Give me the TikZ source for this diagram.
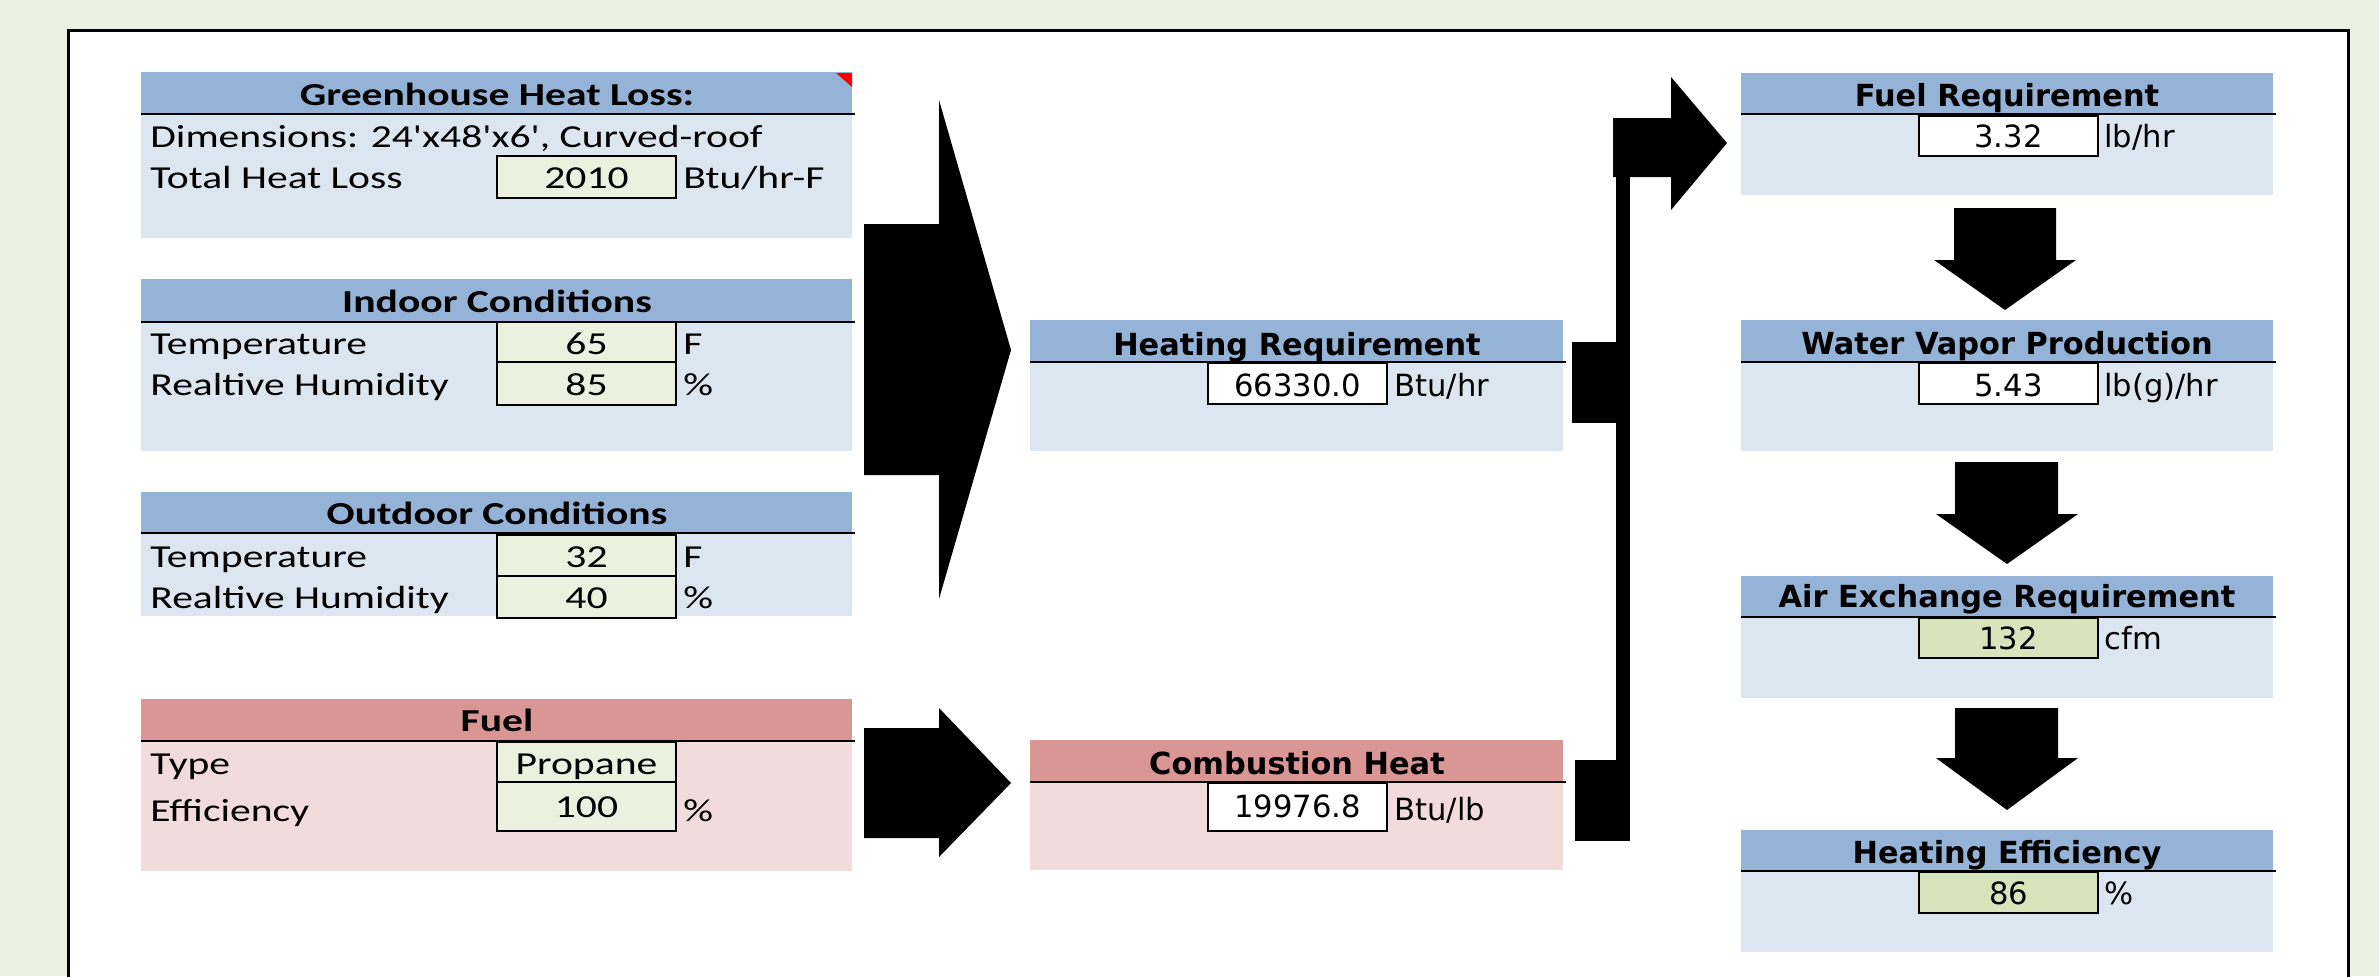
\documentclass[tikz,border=0pt]{standalone}
\usepackage{fontspec}
\newfontfamily\calfont[FakeStretch=1.3]{Carlito}
\newfontfamily\verfont{DejaVu Sans}
\usetikzlibrary{calc}
\definecolor{bgcol}{RGB}{236,240,224}
\definecolor{hdrblue}{RGB}{149,179,215}
\definecolor{bodyblue}{RGB}{220,230,241}
\definecolor{hdrred}{RGB}{218,150,148}
\definecolor{bodyred}{RGB}{242,220,219}
\definecolor{inpgreen}{RGB}{235,241,222}
\definecolor{resgreen}{RGB}{216,228,188}
\newcommand{\panelbox}[7]{% x1 y1 x2 yline y2 hdr body
  \fill[#7] (#1,#4) rectangle (#3,#5);
  \fill[#6] (#1,#2) rectangle (#3,#4);
  \draw[hline] (#1,#4) -- (#3+3,#4);
}
\begin{document}
\begin{tikzpicture}[x=0.5pt,y=-0.5pt,
  lt/.style={font=\calfont\fontsize{16}{19}\selectfont, inner sep=0pt, anchor=base west},
  lc/.style={lt, anchor=base},
  lh/.style={font=\calfont\bfseries\fontsize{16}{19}\selectfont, inner sep=0pt, anchor=base},
  rt/.style={font=\verfont\fontsize{15.3}{18}\selectfont, inner sep=0pt, anchor=base west},
  rc/.style={rt, anchor=base},
  rh/.style={font=\verfont\bfseries\fontsize{15.2}{18}\selectfont, inner sep=0pt, anchor=base},
  hline/.style={line width=1.25pt, line cap=butt},
  vbox/.style={draw=black, line width=1.2pt},
  blockarrow/.style={fill=black}
]
\fill[bgcol] (0,0) rectangle (2379,976);
\useasboundingbox (0,0) rectangle (2379,976);
\draw[line width=1.5pt, fill=white] (68.5,30.5) rectangle (2348.5,1010);

% ---------- Greenhouse Heat Loss
\panelbox{141}{72}{852}{114}{238}{hdrblue}{bodyblue}
\fill[red] (836,73) -- (852,73) -- (852,87) -- cycle;
\node[lh] (ghT) at (497,105) {Greenhouse Heat Loss:};
\node[lt] (ghDim) at (150,147) {Dimensions: 24'x48'x6', Curved-roof};
\node[lt] (ghTot) at (150,188) {Total Heat Loss};
\draw[vbox, fill=inpgreen] (497,156) rectangle (676,198);
\node[lc] (ghV) at (586.5,188) {2010};
\node[lt] (ghU) at (683,188) {Btu/hr-F};

% ---------- Indoor Conditions
\panelbox{141}{279}{852}{322}{451}{hdrblue}{bodyblue}
\node[lh] (inT) at (497,312) {Indoor Conditions};
\node[lt] (inTe) at (150,354) {Temperature};
\node[lt] (inRh) at (150,395) {Realtive Humidity};
\draw[vbox, fill=inpgreen] (497,322) rectangle (676,362);
\draw[vbox, fill=inpgreen] (497,362) rectangle (676,405);
\node[lc] (inTeV) at (586.5,354) {65};
\node[lc] (inRhV) at (586.5,395) {85};
\node[lt] (inTeU) at (683,354) {F};
\node[lt] (inRhU) at (683,395) {\%};

% ---------- Outdoor Conditions
\panelbox{141}{492}{852}{533}{616}{hdrblue}{bodyblue}
\node[lh] (outT) at (497,524) {Outdoor Conditions};
\node[lt] (outTe) at (150,567) {Temperature};
\node[lt] (outRh) at (150,608) {Realtive Humidity};
\draw[vbox, fill=inpgreen] (497,535) rectangle (676,576);
\draw[vbox, fill=inpgreen] (497,576) rectangle (676,618);
\node[lc] (outTeV) at (586.5,567) {32};
\node[lc] (outRhV) at (586.5,608) {40};
\node[lt] (outTeU) at (683,567) {F};
\node[lt] (outRhU) at (683,608) {\%};

% ---------- Fuel
\panelbox{141}{699}{852}{741}{871}{hdrred}{bodyred}
\node[lh] (fuT) at (497,731) {Fuel};
\node[lt] (fuTy) at (150,774) {Type};
\node[lt] (fuEf) at (150,821) {Efficiency};
\draw[vbox, fill=inpgreen] (497,742) rectangle (676,782);
\draw[vbox, fill=inpgreen] (497,782) rectangle (676,831);
\node[lc] (fuTyV) at (586.5,774) {Propane};
\node[lc] (fuEfV) at (586.5,817) {100};
\node[lt] (fuEfU) at (683,821) {\%};

% ---------- Heating Requirement
\panelbox{1030}{320}{1563}{362}{451}{hdrblue}{bodyblue}
\node[rh] (hrT) at (1297,355) {Heating Requirement};
\draw[vbox, fill=white] (1208,363) rectangle (1387,404);
\node[rc] (hrV) at (1297.5,396) {66330.0};
\node[rt] (hrU) at (1394,396) {Btu/hr};

% ---------- Combustion Heat
\panelbox{1030}{740}{1563}{782}{870}{hdrred}{bodyred}
\node[rh] (chT) at (1297,774) {Combustion Heat};
\draw[vbox, fill=white] (1208,783) rectangle (1387,831);
\node[rc] (chV) at (1297.5,817) {19976.8};
\node[rt] (chU) at (1394,820) {Btu/lb};

% ---------- Right column
\panelbox{1741}{73}{2273}{114}{195}{hdrblue}{bodyblue}
\node[rh] (frT) at (2007,106) {Fuel Requirement};
\draw[vbox, fill=white] (1919,116) rectangle (2098,156);
\node[rc] (frV) at (2008.5,147) {3.32};
\node[rt] (frU) at (2104,147) {lb/hr};

\panelbox{1741}{320}{2273}{362}{451}{hdrblue}{bodyblue}
\node[rh] (wvT) at (2007,354) {Water Vapor Production};
\draw[vbox, fill=white] (1919,363) rectangle (2098,404);
\node[rc] (wvV) at (2008.5,396) {5.43};
\node[rt] (wvU) at (2104,396) {lb(g)/hr};

\panelbox{1741}{576}{2273}{617}{698}{hdrblue}{bodyblue}
\node[rh] (aeT) at (2007,607) {Air Exchange Requirement};
\draw[vbox, fill=resgreen] (1919,618) rectangle (2098,658);
\node[rc] (aeV) at (2008.5,649) {132};
\node[rt] (aeU) at (2104,649) {cfm};

\panelbox{1741}{830}{2273}{871}{952}{hdrblue}{bodyblue}
\node[rh] (heT) at (2007,863) {Heating Efficiency};
\draw[vbox, fill=resgreen] (1919,872) rectangle (2098,913);
\node[rc] (heV) at (2008.5,904) {86};
\node[rt] (heU) at (2104,904) {\%};

% ---------- Block arrows
\fill[blockarrow] (864,224) -- (939,224) -- (939,100) -- (1011,350) -- (939,599) -- (939,475) -- (864,475) -- cycle;
\fill[blockarrow] (864,728) -- (939,728) -- (939,708) -- (1011,783) -- (939,857) -- (939,838) -- (864,838) -- cycle;
% bracket
\fill[blockarrow] (1572,342) rectangle (1618,423);
\fill[blockarrow] (1575,760) rectangle (1630,841);
\fill[blockarrow] (1616,118) rectangle (1630,841);
\fill[blockarrow] (1613,118) -- (1671,118) -- (1671,77) -- (1727,143) -- (1671,210) -- (1671,177) -- (1613,177) -- cycle;
% down arrows
\fill[blockarrow] (1954,208) -- (2056,208) -- (2056,260) -- (2076,260) -- (2005,310) -- (1934,260) -- (1954,260) -- cycle;
\fill[blockarrow] (1955,462) -- (2058,462) -- (2058,514) -- (2078,514) -- (2007,564) -- (1936,514) -- (1955,514) -- cycle;
\fill[blockarrow] (1955,708) -- (2058,708) -- (2058,758) -- (2078,758) -- (2007,810) -- (1936,758) -- (1955,758) -- cycle;
\end{tikzpicture}
\end{document}
